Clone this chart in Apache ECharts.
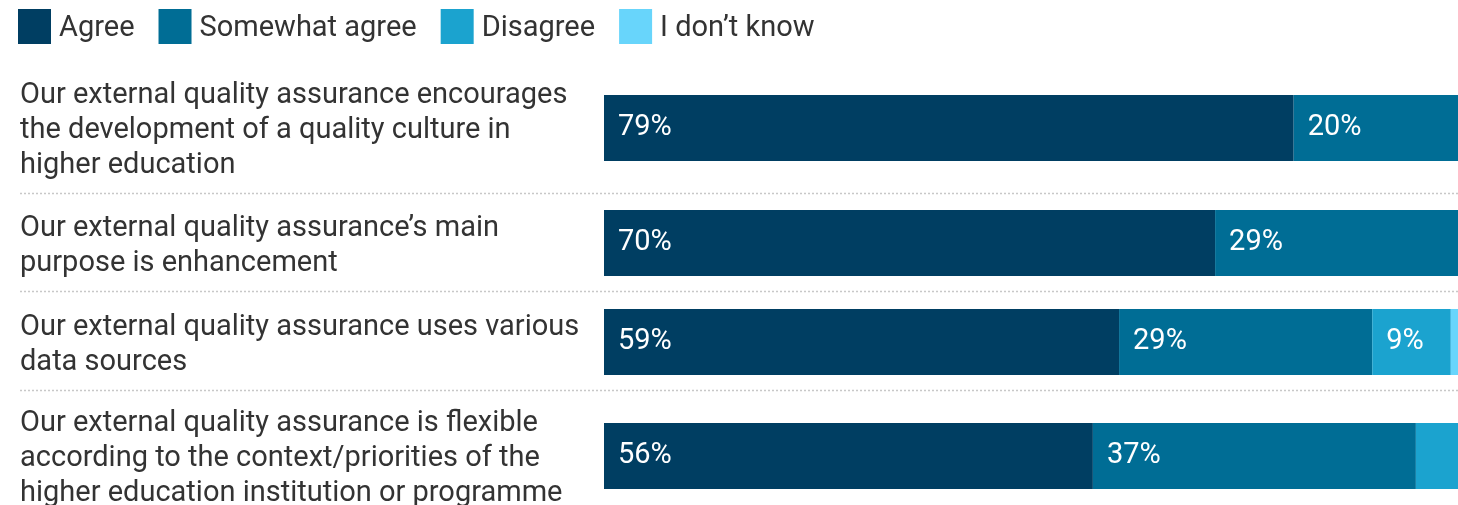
<!DOCTYPE html>
<html>
<head>
<meta charset="utf-8">
<script src="https://cdn.jsdelivr.net/npm/echarts@6/dist/echarts.min.js"></script>
<style>
html,body{margin:0;padding:0;background:#fff;}
#c{width:1458px;height:505px;}
</style>
</head>
<body>
<div id="c"></div>
<script>
const categories = [
  "Our external quality assurance encourages\nthe development of a quality culture in\nhigher education",
  "Our external quality assurance’s main\npurpose is enhancement",
  "Our external quality assurance uses various\ndata sources",
  "Our external quality assurance is flexible\naccording to the context/priorities of the\nhigher education institution or programme"
];
const seriesNames = ["Agree", "Somewhat agree", "Disagree", "I don’t know"];
const agree = [79, 70, 59, 56];
const somewhatAgree = [20, 29, 29, 37];
const disagree = [1, 1, 9, 6];
const dontKnow = [0, 0, 3, 1];
const colors = ["#003e62", "#006d95", "#1ba3cf", "#68d5fb"];

const values = [agree, somewhatAgree, disagree, dontKnow];
const rowTops = [95, 210, 309, 423];
const rowHeight = 66;
const separatorsY = [193.5, 291.5, 390.5];
const FONT = "Roboto, 'Noto Sans', sans-serif";

const chart = echarts.init(document.getElementById('c'), null, {renderer: 'canvas'});

const grid = [], xAxis = [], yAxis = [], series = [];
categories.forEach((cat, i) => {
  // the original chart runs past the right edge of the picture
  grid.push({left: 604, right: -19, top: rowTops[i], height: rowHeight,
             containLabel: false, outerBoundsMode: 'none'});
  xAxis.push({gridIndex: i, type: 'value', min: 0, max: 100, show: false});
  yAxis.push({
    gridIndex: i, type: 'category', data: [cat],
    axisLine: {show: false}, axisTick: {show: false}, splitLine: {show: false},
    axisLabel: {
      align: 'left', margin: 584,
      formatter: v => '{s| }\n' + v.split('\n').map(l => '{t|' + l + '}').join('\n'),
      rich: {
        s: {fontSize: 1, lineHeight: 6},
        t: {fontSize: 29, lineHeight: 35, color: '#333', fontFamily: FONT}
      }
    }
  });
  seriesNames.forEach((name, s) => {
    series.push({
      name: name, type: 'bar', stack: 'row' + i,
      xAxisIndex: i, yAxisIndex: i,
      barWidth: '100%',
      itemStyle: {color: colors[s]},
      label: {
        show: true, position: 'insideLeft', distance: 14,
        color: '#fff', fontSize: 29, fontFamily: FONT,
        formatter: p => p.value >= 8 ? p.value + '%' : ''
      },
      emphasis: {disabled: true},
      data: [values[s][i]]
    });
  });
});

const graphic = separatorsY.map(y => ({
  type: 'line', silent: true,
  shape: {x1: 20, y1: y, x2: 1458, y2: y},
  style: {stroke: '#c8c8c8', lineWidth: 1.5, lineDash: [2, 2]}
}));

chart.setOption({
  animation: false,
  textStyle: {fontFamily: FONT},
  color: colors,
  legend: {
    left: 18, top: 9, padding: 0,
    itemWidth: 33, itemHeight: 35, itemGap: 24,
    icon: 'rect',
    data: seriesNames,
    formatter: n => '{t|' + n + '}',
    textStyle: {
      rich: {t: {fontSize: 29, lineHeight: 29, padding: [4, 0, 0, 3],
                 color: '#333', fontFamily: FONT}}
    }
  },
  grid: grid, xAxis: xAxis, yAxis: yAxis, series: series,
  graphic: graphic
});
</script>
</body>
</html>
